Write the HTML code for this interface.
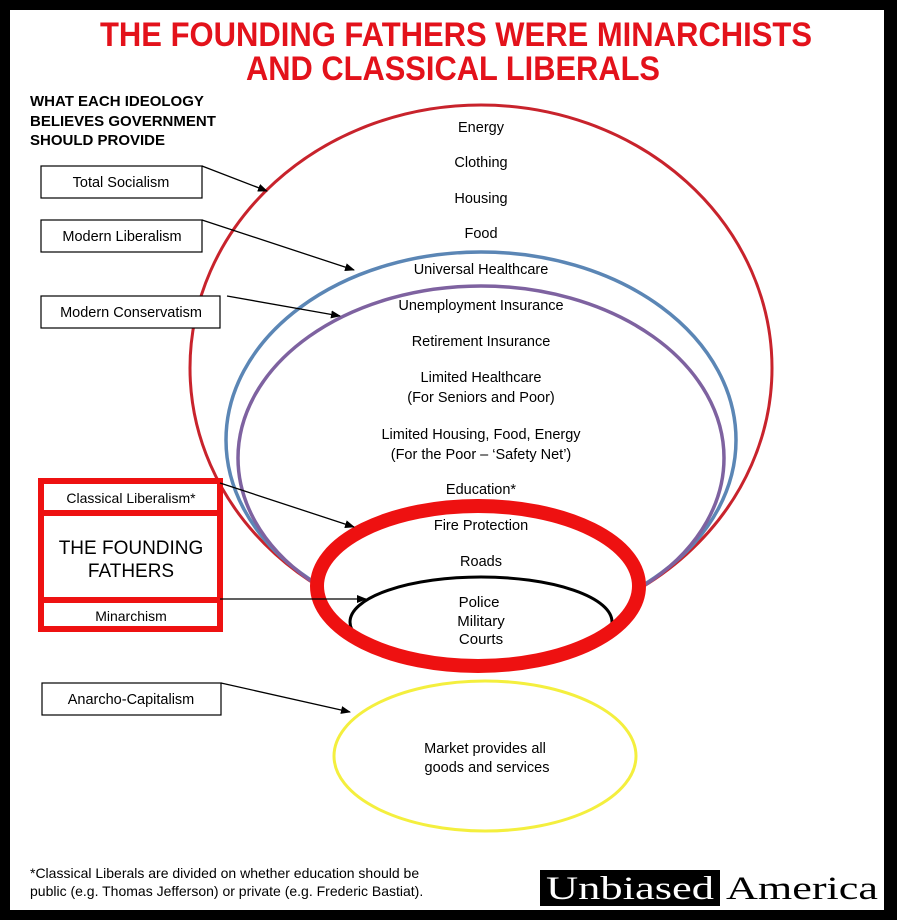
<!DOCTYPE html>
<html><head><meta charset="utf-8"><style>
html,body{margin:0;padding:0;background:#000;}
svg{display:block;}
</style></head><body>
<svg width="897" height="920" viewBox="0 0 897 920" xmlns="http://www.w3.org/2000/svg" font-family="Liberation Sans, sans-serif">
<defs>
<marker id="ar" markerWidth="10" markerHeight="8" refX="9" refY="4" orient="auto" markerUnits="userSpaceOnUse">
<path d="M0,0 L10,4 L0,8 z" fill="#000"/></marker>
<mask id="m">
<rect x="0" y="0" width="897" height="920" fill="#fff"/>
<ellipse cx="478" cy="588" rx="168" ry="90" fill="#000"/>
</mask>
</defs>
<rect x="0" y="0" width="897" height="920" fill="#000"/>
<rect x="10" y="10" width="874" height="900" fill="#fff"/>
<text x="456" y="46" text-anchor="middle" font-size="34" font-weight="bold" fill="#e3121b" textLength="712" lengthAdjust="spacingAndGlyphs">THE FOUNDING FATHERS WERE MINARCHISTS</text>
<text x="453" y="80" text-anchor="middle" font-size="34" font-weight="bold" fill="#e3121b" textLength="414" lengthAdjust="spacingAndGlyphs">AND CLASSICAL LIBERALS</text>
<g font-size="15" font-weight="bold" fill="#000">
<text x="30" y="106">WHAT EACH IDEOLOGY</text>
<text x="30" y="126">BELIEVES GOVERNMENT</text>
<text x="30" y="145">SHOULD PROVIDE</text>
</g>
<g mask="url(#m)">
<ellipse cx="481" cy="368" rx="291" ry="263" fill="none" stroke="#c8232c" stroke-width="3"/>
<ellipse cx="481" cy="440" rx="255" ry="188" fill="none" stroke="#5b86b5" stroke-width="3.5"/>
<ellipse cx="481" cy="458" rx="243" ry="172" fill="none" stroke="#7e62a0" stroke-width="3.5"/>
</g>
<ellipse cx="481" cy="622" rx="131" ry="45" fill="none" stroke="#000" stroke-width="3"/>
<ellipse cx="478" cy="586" rx="161" ry="80" fill="none" stroke="#ee1111" stroke-width="14"/>
<ellipse cx="485" cy="756" rx="151" ry="75" fill="none" stroke="#f4ef3e" stroke-width="3"/>
<g font-size="14.5" text-anchor="middle" fill="#000">
<text x="481" y="132">Energy</text>
<text x="481" y="167">Clothing</text>
<text x="481" y="203">Housing</text>
<text x="481" y="238">Food</text>
<text x="481" y="274">Universal Healthcare</text>
<text x="481" y="310">Unemployment Insurance</text>
<text x="481" y="346">Retirement Insurance</text>
<text x="481" y="382">Limited Healthcare</text>
<text x="481" y="402">(For Seniors and Poor)</text>
<text x="481" y="439">Limited Housing, Food, Energy</text>
<text x="481" y="459">(For the Poor – ‘Safety Net’)</text>
<text x="481" y="494">Education*</text>
<text x="481" y="530">Fire Protection</text>
<text x="481" y="566">Roads</text>
<text x="479" y="607" font-size="15">Police</text>
<text x="481" y="626" font-size="15">Military</text>
<text x="481" y="644" font-size="15">Courts</text>
<text x="485" y="753">Market provides all</text>
<text x="487" y="772">goods and services</text>
</g>
<g fill="#fff" stroke="#000" stroke-width="1.2">
<rect x="41" y="166" width="161" height="32"/>
<rect x="41" y="220" width="161" height="32"/>
<rect x="41" y="296" width="179" height="32"/>
<rect x="42" y="683" width="179" height="32"/>
</g>
<g font-size="14.5" text-anchor="middle" fill="#000">
<text x="121" y="187">Total Socialism</text>
<text x="122" y="241">Modern Liberalism</text>
<text x="131" y="317">Modern Conservatism</text>
<text x="131" y="704">Anarcho-Capitalism</text>
</g>
<rect x="41" y="481" width="179" height="148" fill="#fff" stroke="#ee1111" stroke-width="6" rx="2"/>
<rect x="41" y="481" width="179" height="32" fill="#fff" stroke="#ee1111" stroke-width="6"/>
<rect x="41" y="600" width="179" height="29" fill="#fff" stroke="#ee1111" stroke-width="6"/>
<g text-anchor="middle" fill="#000">
<text x="131" y="503" font-size="14">Classical Liberalism*</text>
<text x="131" y="554" font-size="19">THE FOUNDING</text>
<text x="131" y="577" font-size="19">FATHERS</text>
<text x="131" y="621" font-size="14">Minarchism</text>
</g>
<g stroke="#000" stroke-width="1.3" fill="none" marker-end="url(#ar)">
<line x1="202" y1="166" x2="267" y2="191"/>
<line x1="202" y1="220" x2="354" y2="270"/>
<line x1="227" y1="296" x2="340" y2="316"/>
<line x1="220" y1="483" x2="354" y2="527"/>
<line x1="220" y1="599" x2="366" y2="599"/>
<line x1="221" y1="683" x2="350" y2="712"/>
</g>
<g font-size="14" fill="#000">
<text x="30" y="878">*Classical Liberals are divided on whether education should be</text>
<text x="30" y="896">public (e.g. Thomas Jefferson) or private (e.g. Frederic Bastiat).</text>
</g>
<rect x="540" y="870" width="180" height="36" fill="#000"/>
<text x="546" y="899" font-family="Liberation Serif, serif" font-size="33" fill="#fff" textLength="168" lengthAdjust="spacingAndGlyphs">Unbiased</text>
<text x="726" y="899" font-family="Liberation Serif, serif" font-size="33" fill="#000" textLength="152" lengthAdjust="spacingAndGlyphs">America</text>
</svg>
</body></html>
